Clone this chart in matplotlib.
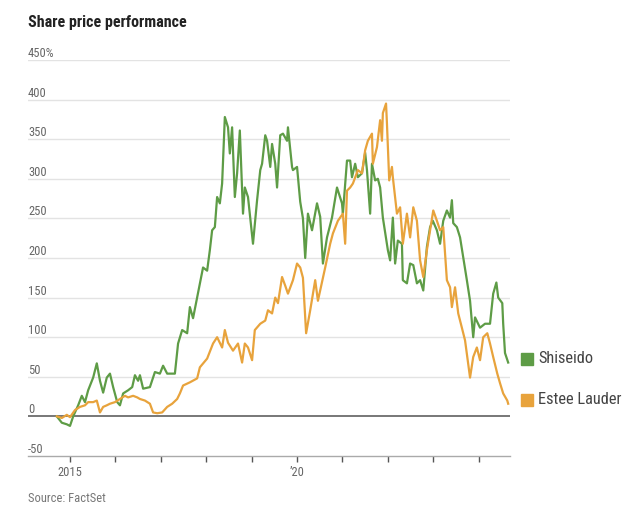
import matplotlib
matplotlib.use("Agg")
import matplotlib.pyplot as plt
from matplotlib import font_manager
import matplotlib.transforms as mtransforms

def pick_font(cands):
    for c in cands:
        try:
            font_manager.findfont(c, fallback_to_default=False)
            return c
        except Exception:
            pass
    return "DejaVu Sans"

FONT = pick_font(["Liberation Sans Narrow", "Roboto Condensed", "Open Sans", "Lato"])
plt.rcParams["font.family"] = [FONT, "DejaVu Sans"]

# ---- data (decimal years, % change) ----
shiseido_t = [2014.71, 2014.82, 2014.93, 2015.00, 2015.07, 2015.18, 2015.26, 2015.33, 2015.40, 2015.51,
              2015.59, 2015.66, 2015.73, 2015.81, 2015.88, 2015.95, 2016.04, 2016.10, 2016.17, 2016.28,
              2016.37, 2016.43, 2016.50, 2016.54, 2016.61, 2016.76, 2016.87, 2016.98, 2017.05, 2017.14,
              2017.25, 2017.31, 2017.38, 2017.47, 2017.58, 2017.64, 2017.71, 2017.80, 2017.86, 2017.93,
              2018.02, 2018.08, 2018.13, 2018.19, 2018.24, 2018.30, 2018.35, 2018.41, 2018.48, 2018.52,
              2018.57, 2018.63, 2018.68, 2018.74, 2018.81, 2018.85, 2018.92, 2019.03, 2019.12, 2019.19,
              2019.23, 2019.30, 2019.34, 2019.41, 2019.45, 2019.52, 2019.56, 2019.63, 2019.69, 2019.78,
              2019.80, 2019.89, 2019.91, 2020.00, 2020.07, 2020.13, 2020.18, 2020.24, 2020.33, 2020.44,
              2020.51, 2020.57, 2020.66, 2020.77, 2020.88, 2020.99, 2021.01, 2021.10, 2021.17, 2021.21,
              2021.28, 2021.34, 2021.43, 2021.50, 2021.54, 2021.61, 2021.65, 2021.72, 2021.78, 2021.83,
              2021.89, 2022.00, 2022.05, 2022.11, 2022.16, 2022.22, 2022.31, 2022.33, 2022.42, 2022.49,
              2022.56, 2022.64, 2022.71, 2022.78, 2022.86, 2022.93, 2022.99, 2023.08, 2023.15, 2023.22,
              2023.30, 2023.37, 2023.41, 2023.44, 2023.52, 2023.59, 2023.66, 2023.74, 2023.81, 2023.88,
              2023.92, 2024.03, 2024.14, 2024.25, 2024.32, 2024.39, 2024.43, 2024.52, 2024.54, 2024.58,
              2024.65]
shiseido_v = [0, -8, -10, -12, 0, 14, 26, 18, 33, 49,
              67, 45, 30, 49, 54, 37, 18, 14, 29, 33,
              37, 52, 45, 52, 35, 37, 56, 54, 64, 54,
              54, 54, 92, 109, 105, 138, 124, 150, 168, 188,
              184, 210, 235, 239, 277, 269, 294, 378, 365, 332,
              365, 277, 307, 361, 256, 289, 277, 218, 273, 311,
              319, 355, 348, 315, 344, 319, 289, 355, 357, 348,
              365, 315, 311, 315, 271, 250, 200, 256, 235, 269,
              252, 193, 226, 251, 289, 269, 256, 323, 323, 302,
              319, 302, 307, 333, 311, 256, 319, 298, 300, 289,
              251, 210, 197, 251, 193, 222, 218, 172, 168, 193,
              191, 168, 172, 159, 214, 239, 247, 235, 218, 247,
              260, 251, 273, 244, 239, 226, 201, 172, 146, 100,
              125, 112, 117, 117, 155, 169, 150, 143, 117, 80,
              68]

estee_t = [2014.71, 2014.82, 2014.93, 2015.00, 2015.11, 2015.22, 2015.33, 2015.40, 2015.51, 2015.59,
           2015.66, 2015.73, 2015.81, 2015.88, 2015.99, 2016.10, 2016.21, 2016.28, 2016.39, 2016.48,
           2016.54, 2016.65, 2016.76, 2016.83, 2016.92, 2017.03, 2017.14, 2017.25, 2017.36, 2017.42,
           2017.49, 2017.64, 2017.80, 2017.86, 2018.02, 2018.15, 2018.24, 2018.35, 2018.41, 2018.48,
           2018.59, 2018.70, 2018.79, 2018.85, 2018.92, 2019.01, 2019.07, 2019.19, 2019.30, 2019.36,
           2019.45, 2019.52, 2019.58, 2019.67, 2019.74, 2019.80, 2019.91, 2020.00, 2020.07, 2020.13,
           2020.20, 2020.29, 2020.40, 2020.46, 2020.62, 2020.73, 2020.79, 2020.90, 2021.01, 2021.06,
           2021.10, 2021.17, 2021.23, 2021.34, 2021.43, 2021.50, 2021.56, 2021.65, 2021.67, 2021.76,
           2021.83, 2021.87, 2021.89, 2021.96, 2021.98, 2022.03, 2022.09, 2022.11, 2022.20, 2022.27,
           2022.33, 2022.42, 2022.49, 2022.56, 2022.64, 2022.71, 2022.78, 2022.86, 2022.93, 2023.00,
           2023.08, 2023.15, 2023.22, 2023.30, 2023.37, 2023.41, 2023.48, 2023.55, 2023.63, 2023.70,
           2023.81, 2023.88, 2023.96, 2024.03, 2024.10, 2024.19, 2024.25, 2024.32, 2024.41, 2024.47,
           2024.54, 2024.63, 2024.65]
estee_v = [0, -2, 2, -1, 8, 12, 14, 18, 18, 20,
           5, 12, 14, 16, 18, 22, 26, 24, 26, 24,
           22, 20, 16, 5, 4, 5, 12, 16, 22, 29,
           39, 43, 48, 62, 73, 92, 100, 87, 109, 93,
           83, 92, 68, 92, 87, 71, 109, 117, 121, 134,
           130, 150, 143, 176, 165, 155, 172, 193, 188, 175,
           105, 134, 172, 146, 188, 218, 231, 247, 256, 218,
           285, 289, 294, 311, 307, 336, 348, 357, 319, 340,
           374, 348, 383, 395, 370, 298, 315, 302, 256, 264,
           218, 256, 226, 264, 247, 197, 176, 210, 235, 260,
           247, 235, 239, 172, 163, 138, 163, 130, 112, 96,
           49, 75, 87, 71, 100, 105, 92, 75, 54, 42,
           29, 20, 16]

series_names = ["Shiseido", "Estee Lauder"]
series_colors = ["#5e9c46", "#e8a33c"]
y_ticks = [-50, 0, 50, 100, 150, 200, 250, 300, 350, 400, 450]
y_labels = ["-50", "0", "50", "100", "150", "200", "250", "300", "350", "400", "450%"]
x_ticks = list(range(2015, 2025))
x_labels = {2015: "2015", 2020: "\u201920"}

# ---- figure ----
fig = plt.figure(figsize=(6.4, 5.16), dpi=100)
ax = fig.add_axes([28 / 640, 1 - 456 / 516, (510 - 28) / 640, (456 - 60) / 516])
ax.set_xlim(2014.075, 2024.69)
ax.set_ylim(-50, 450)

for yv in y_ticks:
    if yv in (0, -50):
        continue
    ax.axhline(yv, color="#e3e3e3", lw=1.0, zorder=1)

ax.axhline(0, color="#777777", lw=1.4, zorder=2)

for t, v, c in ((shiseido_t, shiseido_v, series_colors[0]), (estee_t, estee_v, series_colors[1])):
    ax.plot(t, v, color=c, lw=1.6, zorder=3, solid_joinstyle="round")

# y labels sitting above gridlines
ytrans = mtransforms.blended_transform_factory(ax.transAxes, ax.transData)
for yv, lab in zip(y_ticks, y_labels):
    ax.text(0.0, yv, lab, transform=ytrans, ha="left", va="bottom", fontsize=9,
            color="#666666")

ax.set_yticks([])
for s in ("left", "right", "top"):
    ax.spines[s].set_visible(False)
ax.spines["bottom"].set_color("#aaaaaa")
ax.spines["bottom"].set_linewidth(1.0)
ax.set_xticks(x_ticks)
ax.set_xticklabels([x_labels.get(x, "") for x in x_ticks])
ax.tick_params(axis="x", direction="out", length=4, width=1, color="#555555",
               labelsize=9, labelcolor="#666666", pad=3)

# end labels (legend at line ends)
ends = [shiseido_v[-1], estee_v[-1]]
for name, col, ev in zip(series_names, series_colors, ends):
    ax.plot([1.035], [ev + 5], marker="s", ms=8, color=col, transform=ytrans,
            clip_on=False, zorder=4)
    ax.text(1.058, ev + 5, name, transform=ytrans, ha="left", va="center",
            fontsize=11.8, color="#444444")

fig.text(28 / 640, 1 - 22 / 516, "Share price performance", fontsize=11.5,
         fontweight="bold", color="#222222", ha="left", va="center")
fig.text(28 / 640, 1 - 499 / 516, "Source: FactSet", fontsize=9, color="#777777",
         ha="left", va="center")

fig.savefig("out.png", dpi=100)
